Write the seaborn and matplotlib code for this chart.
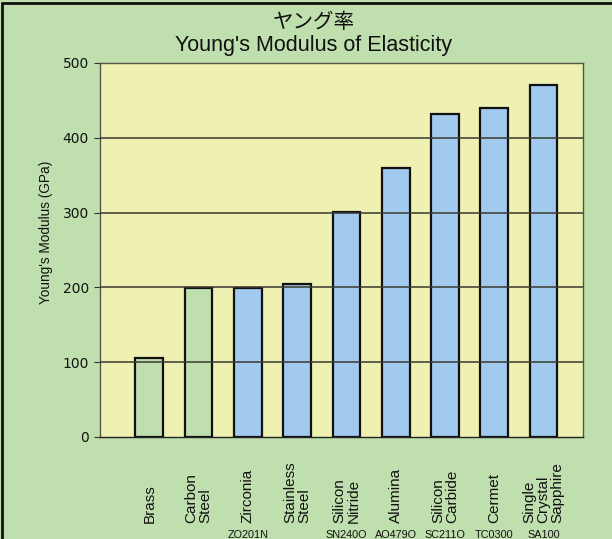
import matplotlib
matplotlib.use("Agg")
import matplotlib.pyplot as plt
import matplotlib.transforms as mtransforms
from matplotlib.lines import Line2D
import seaborn as sns
import pandas as pd

materials = ["Brass", "Carbon\nSteel", "Zirconia", "Stainless\nSteel", "Silicon\nNitride",
             "Alumina", "Silicon\nCarbide", "Cermet", "Single\nCrystal\nSapphire"]
codes = ["", "", "ZO201N", "", "SN240O", "AO479O", "SC211O", "TC0300", "SA100"]
modulus = [105, 199, 199, 205, 301, 360, 432, 440, 470]
group = ["metal", "metal", "ceramic", "ceramic", "ceramic", "ceramic", "ceramic", "ceramic", "ceramic"]
yticks = [0, 100, 200, 300, 400, 500]

BG = "#c0dfae"
PLOT_BG = "#eef1b2"
palette = {"metal": "#c0dfae", "ceramic": "#a2caee"}
SANS = ["Liberation Sans", "DejaVu Sans"]

df = pd.DataFrame({"material": materials, "modulus": modulus, "group": group})

sns.set_theme(style="white")
plt.rcParams["font.family"] = ["Noto Sans CJK JP", "DejaVu Sans"]

fig = plt.figure(figsize=(6.12, 5.39), dpi=100, facecolor=BG)
ax = fig.add_axes([100 / 612, (539 - 437) / 539, (583 - 100) / 612, (437 - 63) / 539])
ax.set_facecolor(PLOT_BG)

sns.barplot(data=df, x="material", y="modulus", hue="group", palette=palette,
            dodge=False, width=0.56, edgecolor="#111111", linewidth=1.6,
            saturation=1, legend=False, ax=ax, zorder=2)

ax.set_ylim(0, 500)
ax.set_xlim(-1, 8.8)
ax.set_yticks(yticks)
ax.set_yticklabels([str(v) for v in yticks], fontsize=10, family=["DejaVu Sans"], color="#111111")
for v in yticks[1:-1]:
    ax.axhline(v, color="#3a3a30", lw=1.1, zorder=3)
ax.tick_params(axis="y", direction="out", length=4, width=0.8, color="#333333", pad=4, left=True)
ax.tick_params(axis="x", length=0, pad=62)
ax.set_xticks(range(len(materials)))
ax.set_xticklabels(materials, rotation=90, fontsize=11, color="#111111",
                   family=SANS, va="bottom", ha="center",
                   multialignment="left", linespacing=1.0)
for sp in ax.spines.values():
    sp.set_color("#555548")
    sp.set_linewidth(1.0)
ax.spines["bottom"].set_color("#222222")

ax.set_xlabel("")
ax.set_ylabel("Young's Modulus (GPa)", fontsize=9.8, family=SANS, color="#111111")
ax.yaxis.set_label_coords(-0.097, (437 - 232) / 374)

trans = mtransforms.blended_transform_factory(ax.transData, fig.transFigure)
for i, c in enumerate(codes):
    if c:
        ax.text(i, (539 - 535) / 539, c, transform=trans, ha="center", va="center",
                fontsize=7.8, family=SANS, color="#111111")

fig.text(0.513, (539 - 22) / 539, "ヤング率", ha="center", va="center", fontsize=14.8, color="#111111")
fig.text(0.513, (539 - 45) / 539, "Young's Modulus of Elasticity", ha="center", va="center",
         fontsize=15.5, family=SANS, color="#111111")

# figure frame (top and left edges)
fig.add_artist(Line2D([0.004, 0.004], [0, 0.995], transform=fig.transFigure, color="#111111", lw=2))
fig.add_artist(Line2D([0.004, 1], [0.995, 0.995], transform=fig.transFigure, color="#111111", lw=2))

fig.savefig("out.png", dpi=100, facecolor=BG)
